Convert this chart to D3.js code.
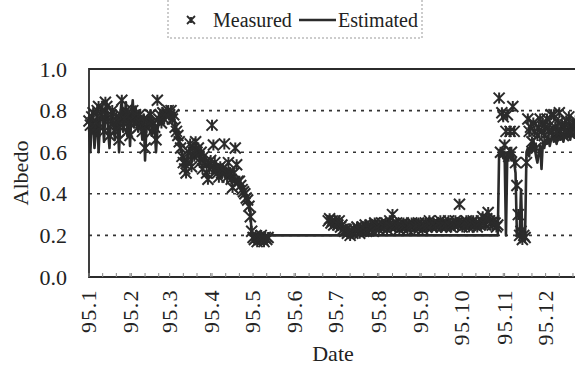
<!DOCTYPE html>
<html><head><meta charset="utf-8">
<script src="https://cdn.jsdelivr.net/npm/d3@7"></script>
<style>
html,body{margin:0;padding:0;background:#fff;}
svg{display:block;}
svg text{font-family:"Liberation Serif","Times New Roman","DejaVu Serif",serif !important;}
</style></head>
<body>
<svg id="chart" width="575" height="367"></svg>
<script>
// ---- data ----
const yearStart = Date.UTC(1995, 0, 1);
const yearEnd = Date.UTC(1996, 0, 1);
const monthLabels = ["95.1","95.2","95.3","95.4","95.5","95.6","95.7","95.8","95.9","95.10","95.11","95.12"];
const yTicks = [0.0, 0.2, 0.4, 0.6, 0.8, 1.0];
const seriesNames = ["Measured", "Estimated"];

// Measured albedo, daily, first block starts 1995-01-01
const measuredStartA = Date.UTC(1995, 0, 1);
const measuredA = [
 0.75,0.73,0.77,0.79,0.70,0.74,0.80,0.82,0.72,0.78,
 0.80,0.70,0.84,0.82,0.75,0.68,0.78,0.80,0.74,0.70,
 0.77,0.75,0.66,0.78,0.85,0.72,0.76,0.80,0.70,0.78,
 0.68,0.76,0.80,0.74,0.78,0.75,0.72,0.78,0.74,0.70,
 0.76,0.62,0.72,0.75,0.74,0.78,0.70,0.74,0.72,0.66,
 0.85,0.76,0.78,0.74,0.79,0.76,0.78,0.79,0.80,0.78,
 0.80,0.76,0.78,0.72,0.70,0.68,0.65,0.62,0.58,0.55,
 0.52,0.50,0.56,0.60,0.64,0.53,0.62,0.58,0.65,0.60,
 0.62,0.55,0.60,0.52,0.58,0.55,0.50,0.47,0.52,0.56,
 0.73,0.635,0.55,0.52,0.50,0.48,0.53,0.50,0.52,0.64,
 0.50,0.48,0.55,0.50,0.47,0.43,0.50,0.62,0.54,0.46,
 0.46,0.44,0.42,0.41,0.40,0.38,0.37,0.34,0.29,0.22,
 0.19,0.18,0.20,0.17,0.19,0.18,0.20,0.18,0.17,0.19,0.18,0.19
];
// second block starts 1995-06-25 (day 175)
const measuredStartB = Date.UTC(1995, 5, 25);
const measuredB = [
 0.27,0.28,0.26,0.27,0.25,0.27,0.26,0.25,0.27,0.24,
 0.25,0.23,0.22,0.23,0.21,0.22,0.20,0.22,0.21,0.23,
 0.22,0.24,0.23,0.21,0.22,0.24,0.23,0.25,0.22,0.24,
 0.23,0.25,0.24,0.22,0.26,0.24,0.25,0.23,0.24,0.26,
 0.25,0.24,0.26,0.23,0.25,0.27,0.24,0.30,0.25,0.24,
 0.26,0.25,0.23,0.25,0.24,0.26,0.25,0.24,0.23,0.25,
 0.24,0.26,0.25,0.23,0.24,0.25,0.26,0.24,0.25,0.23,
 0.25,0.26,0.24,0.25,0.27,0.25,0.24,0.26,0.25,0.24,
 0.26,0.25,0.27,0.24,0.26,0.25,0.24,0.26,0.27,0.25,
 0.24,0.26,0.25,0.27,0.26,0.25,0.35,0.26,0.24,0.26,
 0.25,0.27,0.26,0.24,0.25,0.26,0.27,0.25,0.26,0.24,
 0.26,0.25,0.27,0.29,0.26,0.25,0.28,0.31,0.27,0.26,
 0.25,0.27,0.26,0.24,
 0.25,0.86,0.60,0.79,0.77,0.635,0.70,0.78,0.58,0.70,
 0.60,0.82,0.70,0.55,0.44,0.30,0.20,0.22,0.18,0.20,
 0.19,0.55,0.76,0.70,0.72,0.65,0.74,0.70,0.62,0.68,
 0.72,0.76,0.70,0.74,0.68,0.72,0.76,0.70,0.73,0.78,
 0.70,0.78,0.72,0.70,0.74,0.79,0.70,0.73,0.68,0.72,
 0.75,0.70,0.77,0.72,0.70,0.74,0.72,0.75,0.70,0.73,
 0.71,0.74,0.72,0.70,0.73,0.71
];

// Estimated albedo, daily; block A from 1995-01-01, block B from 1995-10-27
const estimatedStartA = Date.UTC(1995, 0, 1);
const estimatedA = [
 0.72,0.60,0.75,0.78,0.62,0.70,0.80,0.60,0.74,0.82,
 0.76,0.65,0.80,0.83,0.70,0.62,0.77,0.80,0.72,0.66,
 0.78,0.74,0.60,0.79,0.85,0.70,0.76,0.84,0.68,0.80,
 0.63,0.78,0.85,0.72,0.82,0.76,0.70,0.80,0.74,0.66,
 0.78,0.56,0.72,0.77,0.74,0.80,0.68,0.75,0.72,0.60,
 0.70,0.76,0.78,0.74,0.80,0.76,0.79,0.78,0.80,0.80,
 0.80,0.75,0.79,0.72,0.68,0.70,0.64,0.62,0.60,0.58,
 0.55,0.52,0.58,0.60,0.62,0.55,0.60,0.57,0.62,0.58,
 0.60,0.56,0.58,0.55,0.57,0.54,0.53,0.56,0.52,0.55,
 0.53,0.50,0.55,0.52,0.50,0.54,0.51,0.50,0.52,0.50,
 0.48,0.52,0.49,0.47,0.50,0.48,0.46,0.47,0.45,0.46,
 0.45,0.43,0.44,0.42,0.40,0.39,0.37,0.35,0.32,0.20
];
const estimatedStartB = Date.UTC(1995, 9, 27);
const estimatedB = [
 0.20,0.60,0.58,0.62,0.57,0.60,0.20,0.60,0.58,0.62,
 0.56,0.60,0.55,0.50,0.20,0.20,0.20,0.42,0.20,0.20,
 0.20,0.60,0.62,0.58,0.64,0.60,0.66,0.62,0.58,0.55,
 0.60,0.63,0.52,0.65,0.62,0.66,0.64,0.68,0.63,0.66,
 0.70,0.65,0.68,0.64,0.67,0.70,0.66,0.69,0.65,0.68,
 0.70,0.67,0.69,0.66,0.70,0.68,0.67,0.70,0.66,0.68,
 0.70,0.67,0.69,0.68,0.70,0.68
];

// ---- build ----
const DAY = 86400000;
const toPts = (start, vals) => vals.map((v, i) => ({date: new Date(start + i * DAY), v}));
const measured = toPts(measuredStartA, measuredA).concat(toPts(measuredStartB, measuredB));
const estimated = toPts(estimatedStartA, estimatedA).concat(toPts(estimatedStartB, estimatedB));

const serif = "Liberation Serif, Times New Roman, DejaVu Serif, serif";
const svg = d3.select("#chart").attr("font-family", serif);
const plotLeft = 89, plotTop = 69, plotBottom = 277, rightExt = 588;
const x = d3.scaleUtc().domain([new Date(yearStart), new Date(yearEnd)]).range([plotLeft, rightExt]);
const y = d3.scaleLinear().domain([0, 1]).range([plotBottom, plotTop]);
const ink = "#2b2b2b";

// grid
svg.append("g").selectAll("line").data(yTicks.filter(t => t > 0 && t < 1)).join("line")
  .attr("x1", plotLeft).attr("x2", 575).attr("y1", d => y(d)).attr("y2", d => y(d))
  .attr("stroke", "#333").attr("stroke-width", 1.6).attr("stroke-dasharray", "3,5");

// frame
svg.append("path")
  .attr("d", `M575,${plotTop}H${plotLeft}V${plotBottom}H575`)
  .attr("fill", "none").attr("stroke", ink).attr("stroke-width", 1.8);

// minor ticks on x axis
const minor = d3.utcDay.every(10).range(new Date(yearStart), new Date(yearEnd));
svg.append("g").selectAll("line").data(minor).join("line")
  .attr("x1", d => x(d)).attr("x2", d => x(d)).attr("y1", plotBottom).attr("y2", plotBottom - 4)
  .attr("stroke", "#888").attr("stroke-width", 1);

// y axis labels
const yAxis = d3.axisLeft(y).tickValues(yTicks).tickFormat(d3.format(".1f")).tickSize(0).tickPadding(0);
const ya = svg.append("g").attr("transform", `translate(${plotLeft - 22},0)`).call(yAxis)
  .attr("font-family", serif);
ya.select(".domain").remove();
ya.selectAll("text").attr("font-size", 22).attr("fill", "#222").attr("font-family", serif);

// x axis labels
const months = d3.utcMonth.range(new Date(yearStart), new Date(yearEnd));
svg.append("g").selectAll("text").data(months).join("text")
  .attr("transform", (d) => `translate(${x(d) + 7},289) rotate(-90)`)
  .attr("text-anchor", "end").attr("font-family", serif)
  .attr("font-size", 22).attr("letter-spacing", 1.4).attr("fill", "#222")
  .text((d, i) => monthLabels[i]);

// axis titles
svg.append("text").attr("transform", "translate(28,173) rotate(-90)").attr("font-family", serif)
  .attr("text-anchor", "middle").attr("font-size", 22).attr("fill", "#222").text("Albedo");
svg.append("text").attr("x", 333).attr("y", 361).attr("font-family", serif)
  .attr("text-anchor", "middle").attr("font-size", 22).attr("fill", "#222").text("Date");

// estimated line
const line = d3.line().x(d => x(d.date)).y(d => y(d.v));
svg.append("path").datum(estimated).attr("d", line)
  .attr("fill", "none").attr("stroke", ink).attr("stroke-width", 2.6).attr("stroke-linejoin", "round");

// measured markers (asterisk)
const s = 5.5;
const star = `M${-s},${-s}L${s},${s}M${-s},${s}L${s},${-s}M0,${-s}L0,${s}`;
svg.append("g").selectAll("path").data(measured).join("path")
  .attr("transform", d => `translate(${x(d.date)},${y(d.v)})`)
  .attr("d", star).attr("fill", "none").attr("stroke", ink).attr("stroke-width", 2);

// legend
const lg = svg.append("g");
lg.append("rect").attr("x", 168).attr("y", -2).attr("width", 254).attr("height", 40)
  .attr("fill", "none").attr("stroke", "#999").attr("stroke-width", 1).attr("stroke-dasharray", "2,2");
lg.append("path").attr("transform", "translate(191,20)").attr("d", `M-4,-4L4,4M-4,4L4,-4M0,-3L0,3`)
  .attr("fill", "none").attr("stroke", ink).attr("stroke-width", 1.8);
lg.append("text").attr("x", 213).attr("y", 27).attr("font-family", serif).attr("font-size", 20).attr("fill", "#222").text(seriesNames[0]);
lg.append("line").attr("x1", 299).attr("x2", 336).attr("y1", 20).attr("y2", 20)
  .attr("stroke", ink).attr("stroke-width", 2.4);
lg.append("text").attr("x", 338).attr("y", 27).attr("font-family", serif).attr("font-size", 20).attr("fill", "#222").text(seriesNames[1]);
</script>
</body></html>
